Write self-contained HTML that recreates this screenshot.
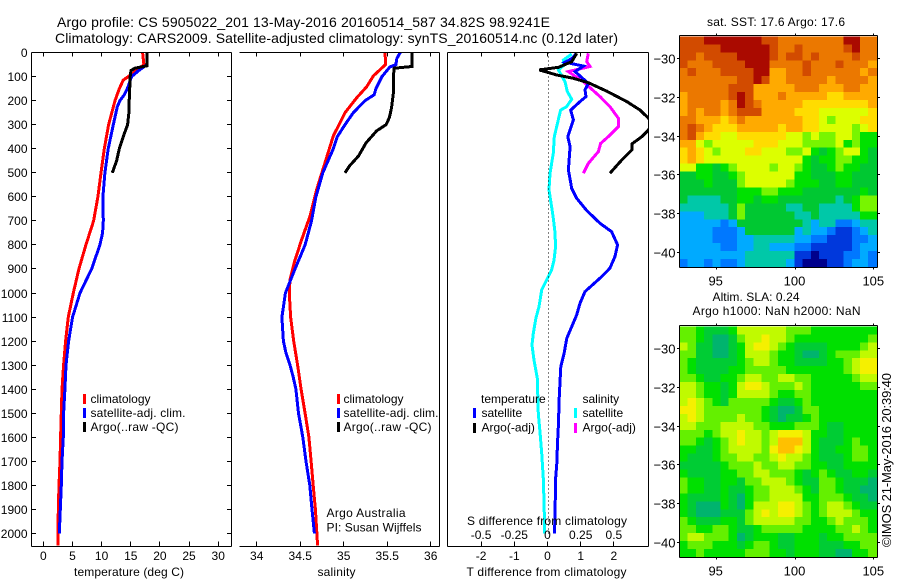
<!DOCTYPE html>
<html>
<head>
<meta charset="utf-8">
<title>Argo profile</title>
<style>
html,body{margin:0;padding:0;background:#fff;width:900px;height:580px;overflow:hidden}
svg{display:block}
text{font-family:"Liberation Sans",Arial,sans-serif;fill:#000}
.t12{font-size:12px}
.t13{font-size:13px}
.t14{font-size:14px}
</style>
</head>
<body>
<svg id="chart" xmlns="http://www.w3.org/2000/svg" width="900" height="580" viewBox="0 0 900 580">
<defs>
<clipPath id="diff-clip"><rect x="448" y="53" width="201" height="493"/></clipPath>
</defs>
<g id="heat-sst"></g>
<g id="heat-sla"></g>
<g id="series-temp"></g>
<g id="series-sal"></g>
<g id="series-diff" clip-path="url(#diff-clip)"></g>
<g id="axes"></g>

<text class="t14" x="57" y="27" textLength="493" lengthAdjust="spacing">Argo profile: CS 5905022_201 13-May-2016 20160514_587 34.82S 98.9241E</text>
<text class="t14" x="55" y="43" textLength="563" lengthAdjust="spacing">Climatology: CARS2009. Satellite-adjusted climatology: synTS_20160514.nc (0.12d later)</text>

<text class="t12" x="74" y="576" textLength="110" lengthAdjust="spacing">temperature (deg C)</text>
<text class="t12" x="317.5" y="576" textLength="38" lengthAdjust="spacing">salinity</text>
<text class="t12" x="466.5" y="576" textLength="160" lengthAdjust="spacing">T difference from climatology</text>
<text class="t12" x="467" y="525" textLength="160" lengthAdjust="spacing">S difference from climatology</text>

<g>
<rect x="83" y="394" width="3" height="10" fill="#ff0000"/>
<rect x="83" y="408" width="3" height="10" fill="#0000ff"/>
<rect x="83" y="422" width="3" height="10" fill="#000000"/>
<text class="t12" x="90.5" y="403">climatology</text>
<text class="t12" x="90.5" y="417" textLength="95" lengthAdjust="spacing">satellite-adj. clim.</text>
<text class="t12" x="90.5" y="431" textLength="88" lengthAdjust="spacing">Argo(..raw -QC)</text>
</g>
<g>
<rect x="337" y="394" width="3" height="10" fill="#ff0000"/>
<rect x="337" y="408" width="3" height="10" fill="#0000ff"/>
<rect x="337" y="422" width="3" height="10" fill="#000000"/>
<text class="t12" x="343.5" y="403">climatology</text>
<text class="t12" x="343.5" y="417" textLength="95" lengthAdjust="spacing">satellite-adj. clim.</text>
<text class="t12" x="343.5" y="431" textLength="88" lengthAdjust="spacing">Argo(..raw -QC)</text>
<text class="t12" x="326.5" y="517" textLength="79" lengthAdjust="spacing">Argo Australia</text>
<text class="t12" x="326.5" y="531.5" textLength="95" lengthAdjust="spacing">PI: Susan Wijffels</text>
</g>
<g>
<text class="t12" x="481" y="403">temperature</text>
<text class="t12" x="582.5" y="403">salinity</text>
<rect x="473" y="408" width="3" height="10" fill="#0000ff"/>
<rect x="473" y="423" width="3" height="10" fill="#000000"/>
<rect x="574" y="408" width="3" height="10" fill="#00ffff"/>
<rect x="574" y="423" width="3" height="10" fill="#ff00ff"/>
<text class="t12" x="481.5" y="417">satellite</text>
<text class="t12" x="481.5" y="431.5">Argo(-adj)</text>
<text class="t12" x="582.5" y="417">satellite</text>
<text class="t12" x="582.5" y="431.5">Argo(-adj)</text>
</g>

<text class="t12" x="707" y="26" textLength="138" lengthAdjust="spacing">sat. SST: 17.6 Argo: 17.6</text>
<text class="t12" x="712.5" y="301" textLength="87" lengthAdjust="spacing">Altim. SLA: 0.24</text>
<text class="t12" x="692.5" y="315" textLength="168" lengthAdjust="spacing">Argo h1000: NaN h2000: NaN</text>
<text class="t13" transform="translate(891,547) rotate(-90)" textLength="174" lengthAdjust="spacing">©IMOS 21-May-2016 20:39:40</text>
</svg>

<script>
// ---- Temperature profiles (deg C vs depth in m) ----
const tempClimDepth = [0,50,90,115,150,200,300,400,500,600,700,800,900,1000,1100,1200,1300,1400,1500,1600,1700,1800,1900,2050];
const tempClimValues = [17.03,17.26,15.14,13.71,13.03,12.29,11.2,10.46,9.89,9.37,8.63,7.31,6.11,5.14,4.29,3.83,3.49,3.2,3.09,2.97,2.86,2.69,2.57,2.51];
const tempSatDepth = [0,50,76,100,150,175,200,225,300,400,500,600,700,750,800,900,1000,1100,1200,1300,1400,1500,1600,1700,1800,1900,2000];
const tempSatValues = [17.83,17.77,16.29,15.14,14.4,13.89,13.14,12.69,12,11.14,10.57,10.23,10.29,10.17,9.71,8.29,6.29,5.03,4.34,3.89,3.71,3.49,3.43,3.2,3.09,2.91,2.74];
const tempArgoDepth = [0,55,65,75,100,200,250,300,350,400,450,500];
const tempArgoValues = [17.83,17.83,15.71,15.03,14.91,14.74,14.69,14.46,13.71,13.03,12.57,11.83];

// ---- Salinity profiles ----
const salClimDepth = [0,49,97,142,188,250,347,458,569,680,778,861,944,1000,1100,1200,1300,1400,1500,1600,1700,1800,1900,2050];
const salClimValues = [35.475,35.483,35.341,35.264,35.149,35.015,34.881,34.785,34.69,34.613,34.517,34.441,34.383,34.375,34.39,34.425,34.47,34.51,34.556,34.6,34.625,34.65,34.675,34.7];
const salSatDepth = [0,25,50,60,100,150,175,200,250,300,350,400,500,600,700,800,900,1000,1050,1100,1200,1250,1300,1350,1400,1500,1600,1700,1800,1900,2000];
const salSatValues = [35.65,35.61,35.6,35.53,35.44,35.37,35.35,35.245,35.11,35.015,34.927,34.88,34.76,34.68,34.63,34.556,34.44,34.33,34.31,34.29,34.307,34.337,34.383,34.42,34.45,34.48,34.53,34.567,34.61,34.636,34.663];
const salArgoDepth = [0,58,65,100,170,230,270,300,325,375,430,470,500];
const salArgoValues = [35.785,35.785,35.58,35.57,35.57,35.55,35.525,35.487,35.38,35.257,35.17,35.07,35.015];

// ---- Differences from climatology ----
const diffTSatDepth = [3,25,40,56,79,128,155,183,204,239,280,350,391,488,565,606,657,710,745,800,849,897,932,994,1043,1091,1140,1188,1251,1306,1362,1445,1542,1625,1709,1778,1917,2000];
const diffTSatValues = [0.88,0.73,0.53,1.08,0.83,1.23,1.13,1.16,0.98,0.70,0.78,0.61,0.68,0.63,0.73,0.88,1.18,1.58,1.93,2.11,2.03,1.88,1.63,1.13,0.98,0.88,0.73,0.58,0.50,0.40,0.38,0.35,0.33,0.30,0.28,0.24,0.23,0.21];
const diffTArgoDepth = [3,38,61,72,93,107,125,160,204,239,273,295,322,350,380,405,454,502];
const diffTArgoValues = [0.88,0.73,0.33,-0.25,0.28,0.78,1.23,1.78,2.39,2.79,3.04,3.15,3.04,2.84,2.54,2.54,2.19,1.88];
const diffSSatDepth = [6,31,52,72,121,162,194,225,239,308,350,419,502,571,641,689,745,807,863,904,946,987,1057,1105,1168,1216,1279,1355,1501,1584,1667,1778,1917,2000];
const diffSSatValues = [0.182,0.119,0.124,0.082,0.132,0.149,0.182,0.144,0.099,0.069,0.051,0.044,0.019,0.011,0.031,0.044,0.056,0.061,0.049,0.031,-0.006,-0.044,-0.064,-0.087,-0.107,-0.117,-0.102,-0.077,-0.069,-0.056,-0.044,-0.031,-0.024,-0.024];
const diffSArgoDepth = [3,38,58,79,121,183,225,273,308,343,378,412,461,502];
const diffSArgoValues = [0.307,0.295,0.32,0.157,0.27,0.395,0.471,0.533,0.533,0.471,0.40,0.383,0.307,0.27];

// ---- Tick labels ----
const depthTicks = [0,100,200,300,400,500,600,700,800,900,1000,1100,1200,1300,1400,1500,1600,1700,1800,1900,2000];
const tempTicks = [0,5,10,15,20,25,30];
const salTicks = [34,34.5,35,35.5,36];
const diffTTicks = [-2,-1,0,1,2];
const diffSTicks = [-0.5,-0.25,0,0.25,0.5];
const lonTicks = [95,100,105];
const latTicks = [-30,-32,-34,-36,-38,-40];

// ---- Satellite SST map, colour level per cell (north row first) ----
const sstRows = [
[12,12,12,13,13,13,13,13,13,13,12,12,11,11,11,11,11,11,11,11,13,13,11,11],
[12,12,12,12,12,13,13,13,13,13,13,12,11,11,12,11,11,11,11,11,12,13,11,11],
[12,12,11,12,12,12,12,13,13,13,13,12,11,12,12,11,12,11,11,11,11,12,11,11],
[12,11,11,11,12,12,12,12,13,13,13,11,11,11,11,12,11,11,11,12,11,11,11,10],
[11,12,11,11,11,12,12,12,12,13,13,10,10,11,11,12,11,11,11,11,11,11,10,11],
[11,11,11,11,11,11,11,12,12,13,12,10,10,11,11,11,11,11,10,11,11,11,11,10],
[11,11,11,11,11,11,12,12,12,10,10,10,10,10,11,11,11,10,10,10,11,11,10,10],
[10,11,11,11,11,11,12,13,12,10,10,10,11,10,10,10,10,10,9,9,10,10,10,10],
[10,11,11,11,11,10,11,13,12,11,10,10,10,10,10,9,9,9,9,9,9,9,9,10],
[10,11,10,11,11,10,11,12,12,12,10,10,10,10,9,9,9,8,8,8,8,8,8,9],
[11,11,10,10,10,9,10,11,10,10,10,10,10,10,10,9,9,8,7,8,8,8,9,9],
[11,12,11,10,9,9,9,10,10,10,10,10,9,10,10,9,9,8,8,8,8,7,8,9],
[11,12,10,9,9,8,8,9,9,9,9,9,9,8,8,7,8,7,7,8,8,7,6,6],
[10,10,8,7,8,8,8,8,8,9,9,9,8,8,8,7,7,7,7,8,6,7,6,6],
[9,10,9,8,7,8,8,8,9,9,8,8,8,7,7,8,6,5,6,7,8,8,6,5],
[9,10,9,8,8,8,8,8,8,8,8,8,8,8,8,6,5,6,6,7,7,6,6,5],
[8,8,6,6,5,6,7,8,8,8,8,7,8,8,7,6,5,5,6,7,6,6,5,5],
[5,5,6,6,5,5,6,7,8,8,8,8,8,8,6,6,5,5,5,6,6,5,5,5],
[5,5,5,6,5,5,5,7,8,8,8,8,8,7,6,6,6,5,5,6,6,5,5,5],
[5,5,5,5,5,5,5,6,6,6,7,7,6,6,6,5,5,5,5,5,5,5,6,5],
[5,4,4,4,4,5,5,6,6,5,6,6,5,5,5,5,5,5,5,4,5,6,7,7],
[4,4,4,4,4,4,5,7,5,5,5,5,5,4,4,5,5,4,4,4,4,6,7,7],
[3,3,3,4,4,4,5,7,5,5,5,5,5,5,4,4,5,4,4,4,4,4,6,6],
[3,3,3,3,3,2,3,5,5,5,5,5,5,5,5,4,3,4,4,2,2,3,4,4],
[3,3,3,3,2,2,2,3,5,5,5,5,5,5,3,4,3,3,2,1,1,2,3,4],
[3,3,3,3,2,2,2,3,3,4,4,4,4,4,3,3,2,2,1,1,1,2,2,3],
[3,3,3,3,3,2,2,3,3,4,4,3,3,3,2,2,1,1,1,1,1,2,3,3],
[3,3,3,3,3,3,3,3,4,4,4,4,4,4,1,1,0,1,1,1,2,2,3,2],
[2,3,3,2,3,2,2,3,4,4,4,4,4,3,1,0,0,0,1,1,2,3,3,2]
];

// ---- Altimeter SLA map, colour level per cell (north row first) ----
const slaRows = [
[7,7,6,5,5,5,6,8,8,8,8,8,8,7,7,7,6,6,6,6,6,6,6,6],
[7,7,6,5,4,4,5,7,8,8,9,8,8,7,6,6,6,6,6,6,6,6,6,7],
[8,7,5,5,4,4,5,6,8,9,9,8,7,6,5,5,5,5,6,6,6,6,7,8],
[7,7,5,5,4,4,5,6,8,8,8,7,6,6,5,4,4,5,6,7,7,7,8,8],
[7,6,5,5,5,5,5,6,7,8,8,7,6,6,5,5,5,5,6,6,7,8,9,9],
[7,6,5,5,5,5,6,6,7,7,7,7,7,6,6,6,6,6,6,6,7,8,9,9],
[7,7,6,5,5,6,6,7,8,8,7,7,8,8,7,7,6,6,6,6,6,7,8,8],
[8,8,7,6,6,5,6,8,9,9,8,7,7,7,8,7,6,6,6,6,6,6,7,7],
[8,8,7,6,6,5,6,8,8,8,8,7,6,6,7,7,6,6,6,6,6,6,6,6],
[8,9,8,7,6,5,7,7,7,7,7,6,5,5,6,7,6,6,6,6,6,6,6,6],
[9,9,8,7,7,7,7,7,7,7,6,5,4,4,5,7,7,6,6,6,6,6,6,6],
[8,9,8,7,7,7,7,8,7,7,6,5,4,5,5,6,7,6,6,6,6,6,6,6],
[8,8,7,7,7,8,8,8,8,7,7,6,6,6,7,7,7,6,5,5,6,6,6,6],
[7,7,7,6,7,8,8,9,8,8,7,8,9,9,9,8,6,6,5,5,6,6,6,6],
[7,7,6,5,6,7,8,9,8,8,7,8,10,10,10,8,6,5,5,5,6,7,6,6],
[6,6,5,5,6,7,8,8,8,8,7,9,10,10,9,8,6,5,5,6,6,7,7,6],
[6,5,5,5,6,7,7,8,8,7,7,8,9,8,8,7,6,5,5,5,6,7,7,6],
[5,5,5,5,5,6,7,7,7,8,7,7,8,8,7,7,6,6,5,5,6,6,6,6],
[6,5,5,5,5,6,6,7,7,8,8,7,7,7,6,5,6,7,6,5,5,6,6,5],
[7,6,6,5,5,6,6,5,7,7,8,8,8,7,6,5,5,7,7,6,5,5,5,4],
[7,6,6,5,5,6,5,5,6,7,7,8,8,8,7,6,5,7,7,6,5,5,4,4],
[6,5,5,5,5,6,5,4,6,7,7,8,8,8,8,6,6,7,7,7,6,5,5,4],
[6,5,4,4,4,6,5,4,6,8,8,8,9,9,8,7,6,7,8,8,7,6,5,5],
[6,5,4,4,4,5,5,5,7,8,9,8,9,9,8,7,6,7,8,8,8,7,6,6],
[7,6,5,5,5,6,6,5,7,8,8,8,8,8,7,7,6,6,7,8,7,7,7,6],
[7,7,6,6,7,7,6,5,5,6,7,7,7,7,7,6,6,6,6,7,7,8,7,6],
[7,8,8,7,7,7,6,4,5,6,6,6,5,5,6,6,6,5,6,6,7,7,7,7],
[6,7,7,7,6,6,6,5,6,7,7,6,5,5,6,6,6,5,5,5,6,6,7,7],
[6,6,7,6,6,6,6,6,7,7,7,6,6,5,6,6,6,5,5,4,4,6,6,7]
];

const sstColours = ['#00008c','#0038dc','#0078ff','#00aaff','#00c8a8','#00c832','#00e100','#78f500','#dcff00','#ffdc00','#ffaa00','#eb7800','#d24b00','#aa0a00'];
const slaColours = ['#00008c','#0038dc','#0078ff','#00aaff','#00b46e','#00cc34','#00e000','#64f000','#c0fa00','#f5f000','#ffc000','#eb7800','#d24b00','#aa0a00'];

// ---- Axis functions ----
const yDepth = d => 52.6 + d * 0.2404;
const xTemp = t => 43.3 + t * 5.83;
const xSal = s => 256.7 + (s - 34) * 87;
const xDiffT = v => 547.5 + v * 33.2;
const xDiffS = v => 547.5 + v * 132.8;
const xLon = lon => 715.7 + (lon - 95) * 15.76;
const yLatSst = lat => 58.3 + (-30 - lat) * 19.34;
const yLatSla = lat => 348.3 + (-30 - lat) * 19.34;

const NS = 'http://www.w3.org/2000/svg';
function make(parentId, tag, props) {
  const el = document.createElementNS(NS, tag);
  for (const k in props) el.setAttribute(k, props[k]);
  document.getElementById(parentId).appendChild(el);
  return el;
}

function drawProfile(parentId, name, colour, depths, values, xFn) {
  const pts = depths.map((d, i) => xFn(values[i]).toFixed(1) + ',' + yDepth(d).toFixed(1)).join(' ');
  const el = make(parentId, 'polyline', {points: pts, fill: 'none', stroke: colour, 'stroke-width': 3, 'stroke-linejoin': 'miter', 'shape-rendering': 'crispEdges'});
  
  
}

drawProfile('series-temp', 'temperature-climatology-line', '#ff0000', tempClimDepth, tempClimValues, xTemp);
drawProfile('series-temp', 'temperature-satellite-line', '#0000ff', tempSatDepth, tempSatValues, xTemp);
drawProfile('series-temp', 'temperature-argo-line', '#000000', tempArgoDepth, tempArgoValues, xTemp);
drawProfile('series-sal', 'salinity-climatology-line', '#ff0000', salClimDepth, salClimValues, xSal);
drawProfile('series-sal', 'salinity-satellite-line', '#0000ff', salSatDepth, salSatValues, xSal);
drawProfile('series-sal', 'salinity-argo-line', '#000000', salArgoDepth, salArgoValues, xSal);
drawProfile('series-diff', 'diff-salinity-satellite-line', '#00ffff', diffSSatDepth, diffSSatValues, xDiffS);
drawProfile('series-diff', 'diff-salinity-argo-line', '#ff00ff', diffSArgoDepth, diffSArgoValues, xDiffS);
drawProfile('series-diff', 'diff-temperature-satellite-line', '#0000ff', diffTSatDepth, diffTSatValues, xDiffT);
drawProfile('series-diff', 'diff-temperature-argo-line', '#000000', diffTArgoDepth, diffTArgoValues, xDiffT);

// ---- Heatmaps ----
const mapLonWest = 92.7;
const mapLonStep = 12.5 / 24;
const mapLatNorth = -28.87;
const mapLatStep = 11.92 / 29;
function drawMap(parentId, name, rows, yFn, palette) {
  rows.forEach((row, r) => {
    row.forEach((level, c) => {
      const x0 = xLon(mapLonWest + c * mapLonStep);
      const x1 = xLon(mapLonWest + (c + 1) * mapLonStep);
      const y0 = yFn(mapLatNorth - r * mapLatStep);
      const y1 = yFn(mapLatNorth - (r + 1) * mapLatStep);
      const cell = make(parentId, 'rect', {x: x0.toFixed(2), y: y0.toFixed(2), width: (x1 - x0 + 0.4).toFixed(2), height: (y1 - y0 + 0.4).toFixed(2), fill: palette[level], 'shape-rendering': 'crispEdges'});
      
      
    });
  });
}
drawMap('heat-sst', 'sst-cell', sstRows, yLatSst, sstColours);
drawMap('heat-sla', 'sla-cell', slaRows, yLatSla, slaColours);

// ---- Axes ----
function seg(name, x1, y1, x2, y2, extra) {
  const el = make('axes', 'line', Object.assign({x1: x1, y1: y1, x2: x2, y2: y2, stroke: '#000', 'stroke-width': 1, 'shape-rendering': 'crispEdges'}, extra || {}));
  
  
}
function lab(name, str, x, y, anchor, cls) {
  const el = make('axes', 'text', {x: x, y: y, 'text-anchor': anchor, class: cls});
  el.textContent = str;
  
  
}
const snap = v => Math.round(v) + 0.5;
const panelTop = 52.5, panelBottom = 546.5;

// panel frames
seg('temperature-axis-left', 31.5, panelTop, 31.5, panelBottom);
seg('temperature-axis-right', 231.5, panelTop, 231.5, panelBottom);
seg('temperature-axis-top', 31.5, panelTop, 231.5, panelTop);
seg('temperature-axis-bottom', 31.5, panelBottom, 231.5, panelBottom);
seg('salinity-axis-right', 439.5, panelTop, 439.5, panelBottom);
seg('salinity-axis-top', 239.5, panelTop, 439.5, panelTop);
seg('salinity-axis-bottom', 239.5, panelBottom, 439.5, panelBottom);
seg('difference-axis-left', 447.5, panelTop, 447.5, panelBottom);
seg('difference-axis-right', 648.5, panelTop, 648.5, panelBottom);
seg('difference-axis-top', 447.5, panelTop, 648.5, panelTop);
seg('difference-axis-bottom', 447.5, panelBottom, 648.5, panelBottom);
seg('zero-difference-line', snap(xDiffT(0)), panelTop, snap(xDiffT(0)), yDepth(2010), {'stroke-dasharray': '1 3'});

depthTicks.forEach(d => {
  const y = snap(yDepth(d) - 0.5);
  seg('depth-tick-left', 31.5, y, 36, y);
  seg('depth-tick-right', 227, y, 231.5, y);
  lab('depth-tick-label', String(d), 27.5, y + 4.5, 'end', 't12');
});
function xTicks(name, ticks, xFn, labelY, cls) {
  ticks.forEach(t => {
    const x = snap(xFn(t) - 0.5);
    seg(name + '-tick-top', x, panelTop, x, panelTop + 4);
    seg(name + '-tick-bottom', x, panelBottom - 5, x, panelBottom);
    lab(name + '-tick-label', String(t), xFn(t), labelY, 'middle', cls);
  });
}
xTicks('temperature', tempTicks, xTemp, 560, 't12');
xTicks('salinity', salTicks, xSal, 560, 't12');
xTicks('t-difference', diffTTicks, xDiffT, 560, 't12');
diffSTicks.forEach(t => {
  lab('s-difference-tick-label', String(t), xDiffS(t), 539, 'middle', 't12');
});

// map frames
function mapFrame(name, top, bottom, yFn) {
  seg(name + '-frame-left', 679.5, top, 679.5, bottom);
  seg(name + '-frame-right', 877.5, top, 877.5, bottom);
  seg(name + '-frame-top', 679.5, top, 877.5, top);
  seg(name + '-frame-bottom', 679.5, bottom, 877.5, bottom);
  lonTicks.forEach(lon => {
    const x = snap(xLon(lon));
    seg(name + '-lon-tick', x, top - 2, x, top);
    seg(name + '-lon-tick', x, bottom, x, bottom + 2);
    lab(name + '-lon-label', String(lon), xLon(lon), bottom + 18, 'middle', 't13');
  });
  latTicks.forEach(lat => {
    const y = snap(yFn(lat));
    seg(name + '-lat-tick', 677, y, 679.5, y);
    seg(name + '-lat-tick', 877.5, y, 880, y);
    lab(name + '-lat-label', String(lat).replace('-', '\u2212'), 675.5, y + 5, 'end', 't13');
  });
}
mapFrame('sst-map', 35.5, 267.5, yLatSst);
mapFrame('sla-map', 325.5, 557.5, yLatSla);
</script>
</body>
</html>
